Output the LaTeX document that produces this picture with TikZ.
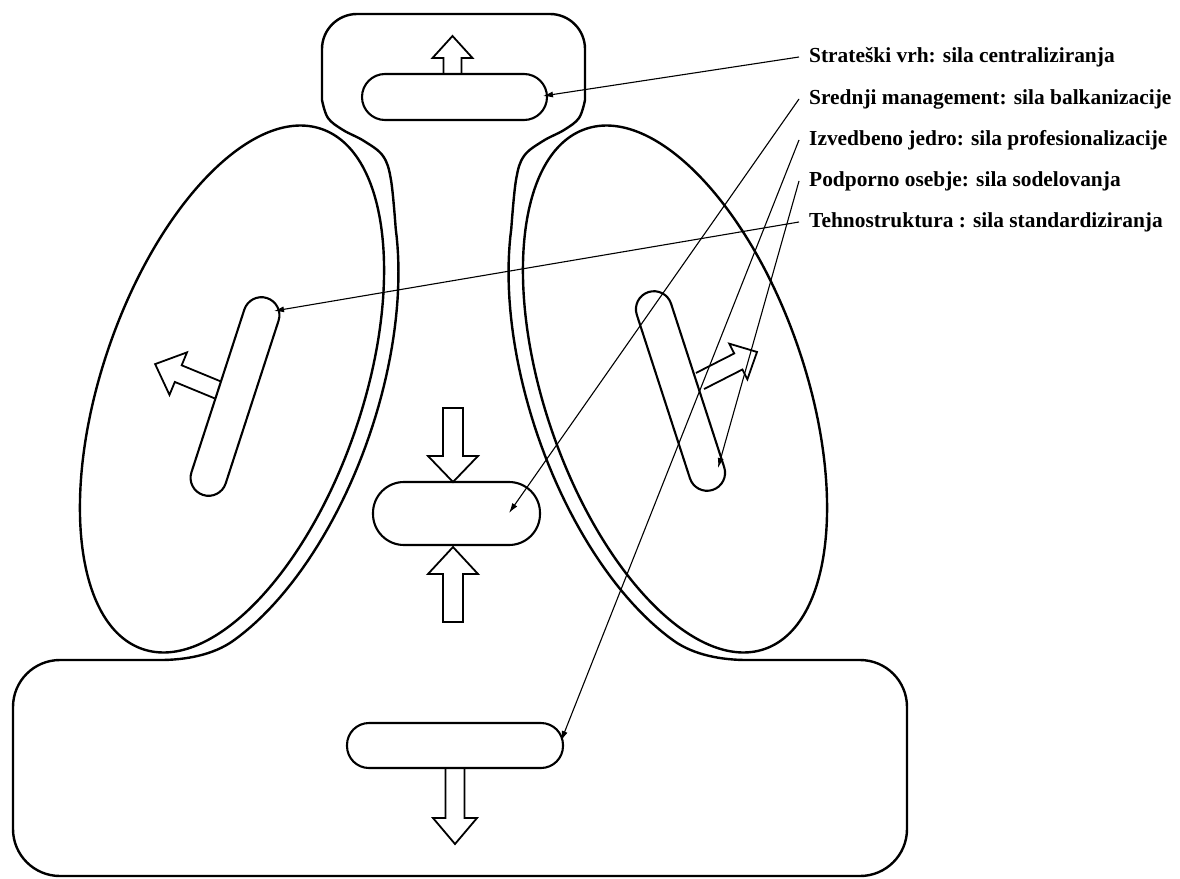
\documentclass[tikz,border=0pt]{standalone}
\usepackage{fontspec}
\setmainfont{Liberation Serif}
\usetikzlibrary{arrows.meta}
\begin{document}
\begin{tikzpicture}[x=1pt,y=-1pt,
  outline/.style={line width=2.4pt, line join=round},
  lobe/.style={line width=2.4pt},
  capsule/.style={line width=2.1pt},
  arrowline/.style={line width=1.8pt, line join=miter},
  leader/.style={line width=1.1pt, -{Latex[length=10pt,width=6pt]}},
  labeltext/.style={anchor=base west, inner xsep=10pt, inner ysep=0pt,
    text height=15pt, text depth=5pt, font=\fontsize{21.4}{25}\selectfont\bfseries},
  % open-tailed force arrow: shaft length, head length, head half-width, shaft half-width
  pics/forcearrow/.style n args={4}{code={
    \draw[arrowline] (0,-#4) -- (#1,-#4) -- (#1,-#3) -- ({#1+#2},0) -- (#1,#3) -- (#1,#4) -- (0,#4);}},
  % closed force arrow pressing on the middle line
  pics/pressarrow/.style n args={4}{code={
    \draw[arrowline] (0,-#4) -- (#1,-#4) -- (#1,-#3) -- ({#1+#2},0) -- (#1,#3) -- (#1,#4) -- (0,#4) -- cycle;}}
]
\useasboundingbox (0,0) rectangle (1180,878);

% outer silhouette of the organisation
\draw[outline]
  (13,770) -- (13,707) .. controls (13,681) and (34,660) .. (60,660)
  -- (160,660) .. controls (185,660) and (212.9,655.2) .. (233.3,640.7)
  -- plot[domain=145:45, samples=50, variable=\t]
       ({232+94.4*cos(\t)+137.1*sin(\t)}, {389-274.2*cos(\t)+47.2*sin(\t)})
  -- plot[smooth, tension=0.6] coordinates
       {(395.7,228.5) (391,180) (383,156) (364,141) (343,130) (328,118) (322,100)}
  -- (322,49) .. controls (322,29.7) and (337.7,14) .. (357,14)
  -- (550,14) .. controls (569.3,14) and (585,29.7) .. (585,49)
  -- plot[smooth, tension=0.6] coordinates
       {(585,100) (579,118) (564,130) (543,141) (524,156) (516,180) (511.3,228.5)}
  -- plot[domain=45:145, samples=50, variable=\t]
       ({675-94.4*cos(\t)-137.1*sin(\t)}, {389-274.2*cos(\t)+47.2*sin(\t)})
  .. controls (694.1,655.2) and (722,660) .. (747,660)
  -- (860,660) .. controls (886,660) and (907,681) .. (907,707)
  -- (907,829) .. controls (907,855) and (886,876) .. (860,876)
  -- (60,876) .. controls (34,876) and (13,855) .. (13,829) -- cycle;

% technostructure and support staff lobes
\draw[lobe, rotate around={71:(232,389)}] (232,389) ellipse [x radius=275, y radius=130];
\draw[lobe, rotate around={109:(675,389)}] (675,389) ellipse [x radius=275, y radius=130];

% capsules of the five parts
\draw[capsule, rounded corners=23pt] (362,74) rectangle (547,120);
\draw[capsule, rounded corners=31pt] (373,482) rectangle (540,545);
\draw[capsule, rounded corners=22pt] (347,723) rectangle (563,768);
\draw[capsule, rounded corners=18pt, rotate around={72:(235,396.5)}] (131.5,378.5) rectangle (338.5,414.5);
\draw[capsule, rounded corners=18pt, rotate around={108:(680.5,391)}] (576.5,373) rectangle (784.5,409);

% pulls
\pic[rotate=90]    at (452.5,74) {forcearrow={16}{22}{20}{9}};
\pic[rotate=-90]   at (455,768)  {forcearrow={50}{26}{22}{9.5}};
\pic[rotate=157.6] at (218,390)  {forcearrow={43}{25}{23}{9}};
\pic[rotate=27]    at (700,381)  {forcearrow={43}{21}{20}{9}};
\pic[rotate=-90]   at (453,408)  {pressarrow={48}{26}{25}{10}};
\pic[rotate=90]    at (453,622)  {pressarrow={48}{27}{25}{10}};

% labels
\node[labeltext] (apex)    at (799,62)  {Strateški vrh: sila centraliziranja};
\node[labeltext] (middle)  at (799,104) {Srednji management: sila balkanizacije};
\node[labeltext] (core)    at (799,145) {Izvedbeno jedro: sila profesionalizacije};
\node[labeltext] (support) at (799,186) {Podporno osebje: sila sodelovanja};
\node[labeltext] (techno)  at (799,227) {Tehnostruktura : sila standardiziranja};

\coordinate (apexTip)    at (543,96);
\coordinate (middleTip)  at (509,513);
\coordinate (coreTip)    at (561,741);
\coordinate (supportTip) at (718,468);
\coordinate (technoTip)  at (274,311);

\draw[leader] (apex.west)    -- (apexTip);
\draw[leader] (middle.west)  -- (middleTip);
\draw[leader] (core.west)    -- (coreTip);
\draw[leader] (support.west) -- (supportTip);
\draw[leader] (techno.west)  -- (technoTip);
\end{tikzpicture}
\end{document}
